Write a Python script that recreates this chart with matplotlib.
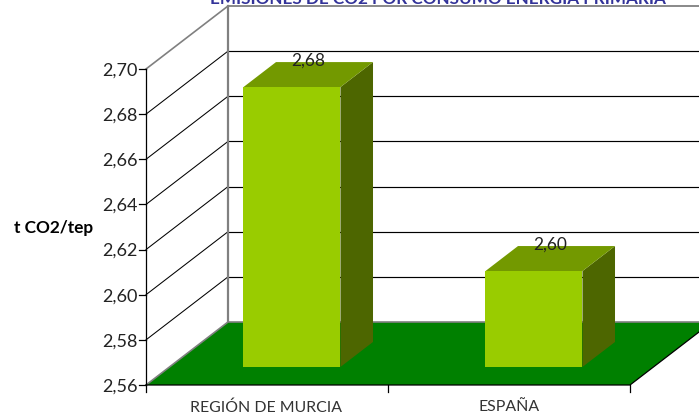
import matplotlib
matplotlib.use("Agg")
import matplotlib.pyplot as plt
from matplotlib.patches import Polygon

categories = ["REGIÓN DE MURCIA", "ESPAÑA"]
values = [2.684, 2.6025]
value_labels = ["2,68", "2,60"]
ticks = [2.56, 2.58, 2.60, 2.62, 2.64, 2.66, 2.68, 2.70]
tick_labels = ["2,56", "2,58", "2,60", "2,62", "2,64", "2,66", "2,68", "2,70"]
title = "EMISIONES DE CO2 POR CONSUMO ENERGIA PRIMARIA"
ylabel = "t CO2/tep"

W, H = 699, 418
PX_X = 242.0           # pixels per category
PX_Y = 316 / 0.14      # pixels per value unit
X0, Y0 = 146, 385      # pixel position of the front-left floor corner

plt.rcParams["font.family"] = ["Lato", "DejaVu Sans"]
fig = plt.figure(figsize=(W / 100, H / 100), dpi=100, facecolor="white")
ax = fig.add_axes([0, 0, 1, 1])
ax.set_xlim(-0.5 - X0 / PX_X, -0.5 + (W - X0) / PX_X)
ax.set_ylim(2.56 - (H - Y0) / PX_Y, 2.56 + Y0 / PX_Y)
ax.axis("off")

DX = 82 / PX_X         # full depth, in category units
DY = 63 / PX_Y         # full depth, in value units


def P(x, v, d=0.0):
    """Oblique projection of category x, value v, depth d (0..1)."""
    return (x + DX * d, v + DY * d)


vmin, vmax = ticks[0], ticks[-1]
xl, xr = -0.5, 1.5
GRAY = "#808080"

# gridlines on back wall and side wall
for t in ticks[1:]:
    c = GRAY if t == vmax else "black"
    lw = 1.2 if t == vmax else 0.75
    ax.plot(*zip(P(xl, t), P(xl, t, 1)), color=c, lw=lw, zorder=1)
    ax.plot(*zip(P(xl, t, 1), P(xr, t, 1)), color=c, lw=lw + 0.1, zorder=1, solid_capstyle="butt")

# back wall edge
ax.plot(*zip(P(xl, vmin, 1), P(xl, vmax, 1)), color=GRAY, lw=1.6, zorder=2)

# floor
ax.add_patch(Polygon([P(xl, vmin), P(xr, vmin), P(xr, vmin, 1), P(xl, vmin, 1)],
                     closed=True, fc="#008000", ec="none", zorder=3))
ax.plot(*zip(P(xl, vmin), P(xl, vmin, 1), P(xr, vmin, 1)), color=GRAY, lw=1.2, zorder=3)

# axes lines
ax.plot(*zip(P(xl, vmin), P(xl, vmax)), color="black", lw=0.9, zorder=6)
ax.plot(*zip(P(xl, vmin), P(xr, vmin), P(xr, vmin, 1)), color="black", lw=0.9, zorder=6)
for t, lab in zip(ticks, tick_labels):
    ax.plot([xl - 7 / PX_X, xl], [t, t], color="black", lw=0.9, zorder=6)
    ax.text(xl - 8 / PX_X, t - 1.5 / PX_Y, lab, ha="right", va="center", fontsize=13, color="#222222")
for x in (-0.5, 0.5, 1.5):
    ax.plot([x, x], [vmin, vmin - 7 / PX_Y], color="black", lw=0.9, zorder=6)

# bars
bar_w = 97 / PX_X
bar_shift = 1.5 / PX_X
d0, d1 = 0.286, 0.683
for i, (v, cat, lab) in enumerate(zip(values, categories, value_labels)):
    a, b = i + bar_shift - bar_w / 2, i + bar_shift + bar_w / 2
    ax.add_patch(Polygon([P(b, vmin, d0), P(b, vmin, d1), P(b, v, d1), P(b, v, d0)],
                         closed=True, fc="#4D6600", ec="none", zorder=4))
    ax.add_patch(Polygon([P(a, v, d0), P(b, v, d0), P(b, v, d1), P(a, v, d1)],
                         closed=True, fc="#739900", ec="none", zorder=4))
    ax.add_patch(Polygon([P(a, vmin, d0), P(b, vmin, d0), P(b, v, d0), P(a, v, d0)],
                         closed=True, fc="#99CC00", ec="none", zorder=5))
    lx, ly = P(i + bar_shift, v, (d0 + d1) / 2)
    ax.text(lx, ly + 14 / PX_Y, lab, ha="center", va="center", fontsize=12.5, color="#222222", zorder=7)
    ax.text(i - 0.005 if i == 0 else i, vmin - 22.5 / PX_Y, cat, ha="center", va="center", fontsize=11.4, color="#333333")

ax.text(xl - 92 / PX_X, 2.56 + (385 - 228.5) / PX_Y, ylabel, ha="center", va="center",
        fontsize=12.4, fontweight="bold", color="black")
ax.text(xl + 292 / PX_X, 2.56 + (385 + 1) / PX_Y, title, ha="center", va="center",
        fontsize=12.3, fontweight="bold", color="#333399")

fig.savefig("out.png", dpi=100)
